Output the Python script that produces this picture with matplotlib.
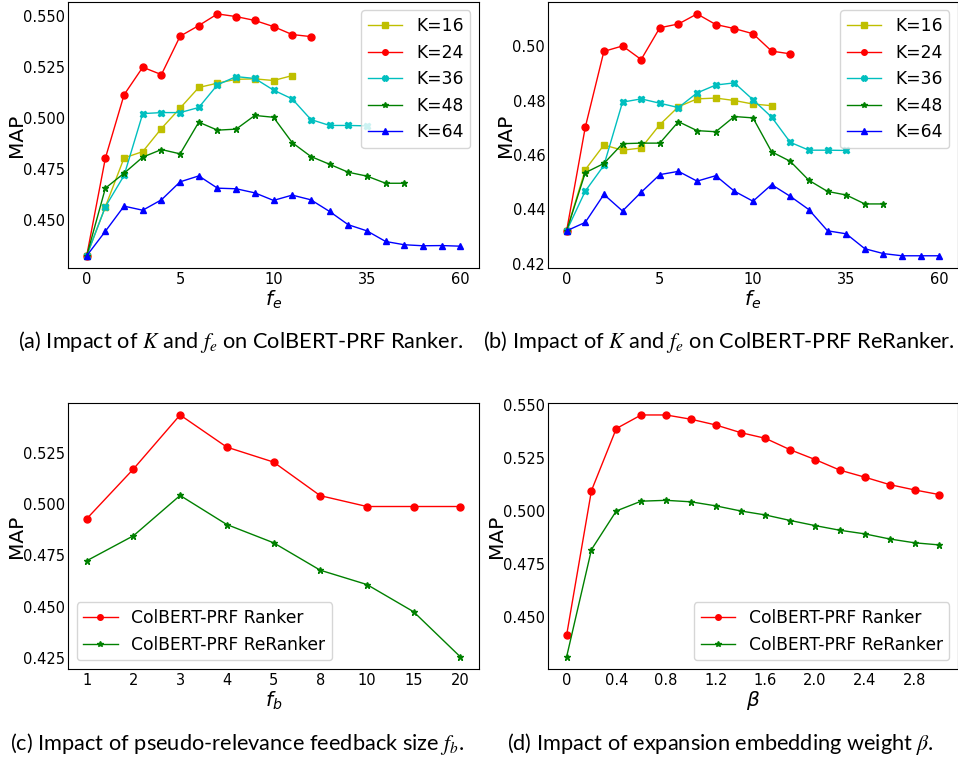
import numpy as np
import matplotlib
matplotlib.use("Agg")
import matplotlib.pyplot as plt
from matplotlib.ticker import MultipleLocator, FormatStrFormatter

# --- f_e sweep (x positions are indices, labelled at every 5th step) ---
fe_ticks = [0, 5, 10, 15, 20]
fe_labels = ["0", "5", "10", "35", "60"]
k_names = ["K=16", "K=24", "K=36", "K=48", "K=64"]
k_colors = ["y", "r", "c", "g", "b"]
k_markers = ["s", "o", "X", "*", "^"]

ranker_k16 = [0.4324, 0.4564, 0.4803, 0.4834, 0.4947, 0.5047, 0.5148, 0.5169, 0.5188, 0.5190, 0.5182, 0.5206]
ranker_k24 = [0.4324, 0.4802, 0.5112, 0.5247, 0.5211, 0.5399, 0.5451, 0.5508, 0.5495, 0.5476, 0.5446, 0.5407, 0.5397]
ranker_k36 = [0.4324, 0.4564, 0.4717, 0.5020, 0.5025, 0.5025, 0.5050, 0.5161, 0.5201, 0.5192, 0.5135, 0.5092,
              0.4991, 0.4962, 0.4962, 0.4960]
ranker_k48 = [0.4324, 0.4655, 0.4728, 0.4807, 0.4844, 0.4823, 0.4978, 0.4939, 0.4944, 0.5011, 0.5002, 0.4878,
              0.4810, 0.4772, 0.4733, 0.4714, 0.4679, 0.4679]
ranker_k64 = [0.4324, 0.4444, 0.4567, 0.4547, 0.4598, 0.4686, 0.4715, 0.4655, 0.4652, 0.4632, 0.4595, 0.4621,
              0.4598, 0.4541, 0.4476, 0.4446, 0.4394, 0.4378, 0.4373, 0.4374, 0.4371]

reranker_k16 = [0.4321, 0.4546, 0.4637, 0.4618, 0.4626, 0.4712, 0.4778, 0.4807, 0.4810, 0.4801, 0.4788, 0.4782]
reranker_k24 = [0.4321, 0.4702, 0.4982, 0.5002, 0.4952, 0.5069, 0.5083, 0.5120, 0.5081, 0.5066, 0.5047, 0.4983, 0.4973]
reranker_k36 = [0.4321, 0.4467, 0.4562, 0.4795, 0.4807, 0.4791, 0.4775, 0.4829, 0.4858, 0.4866, 0.4804, 0.4740,
                0.4647, 0.4618, 0.4618, 0.4617]
reranker_k48 = [0.4321, 0.4535, 0.4569, 0.4642, 0.4644, 0.4644, 0.4723, 0.4690, 0.4686, 0.4742, 0.4737, 0.4612,
                0.4577, 0.4507, 0.4466, 0.4453, 0.4420, 0.4420]
reranker_k64 = [0.4321, 0.4352, 0.4455, 0.4394, 0.4463, 0.4528, 0.4540, 0.4504, 0.4524, 0.4467, 0.4430, 0.4491,
                0.4448, 0.4399, 0.4321, 0.4310, 0.4255, 0.4237, 0.4229, 0.4229, 0.4229]

# --- f_b sweep ---
fb_labels = ["1", "2", "3", "4", "5", "8", "10", "15", "20"]
fb_ranker = [0.4929, 0.5172, 0.5436, 0.5279, 0.5206, 0.5042, 0.4989, 0.4989, 0.4989]
fb_reranker = [0.4724, 0.4846, 0.5043, 0.4901, 0.4812, 0.4678, 0.4608, 0.4475, 0.4255]

# --- beta sweep ---
beta = [0.0, 0.2, 0.4, 0.6, 0.8, 1.0, 1.2, 1.4, 1.6, 1.8, 2.0, 2.2, 2.4, 2.6, 2.8, 3.0]
beta_ranker = [0.4414, 0.5095, 0.5387, 0.5451, 0.5451, 0.5431, 0.5404, 0.5368, 0.5341, 0.5287, 0.5241,
               0.5191, 0.5158, 0.5123, 0.5098, 0.5076]
beta_reranker = [0.4312, 0.4817, 0.4999, 0.5045, 0.5049, 0.5042, 0.5023, 0.4999, 0.4980, 0.4954, 0.4930,
                 0.4908, 0.4891, 0.4867, 0.4849, 0.4839]
beta_ticks = [0.0, 0.4, 0.8, 1.2, 1.6, 2.0, 2.4, 2.8]
beta_tick_labels = ["0", "0.4", "0.8", "1.2", "1.6", "2.0", "2.4", "2.8"]

TICK_FS = 10.5
LEG_FS = 12.3
LAB_FS = 14.5
MS = 5

fig = plt.figure(figsize=(9.58, 7.61), dpi=100)
ax_a = fig.add_axes([0.071, 0.648, 0.429, 0.3496])
ax_b = fig.add_axes([0.572, 0.648, 0.428, 0.3496])
ax_c = fig.add_axes([0.071, 0.121, 0.429, 0.3496])
ax_d = fig.add_axes([0.572, 0.121, 0.428, 0.3496])


def style(ax, step=0.025, fmt="%.3f", ylab_x=-0.102):
    ax.tick_params(labelsize=TICK_FS, length=0)
    ax.tick_params(axis="y", pad=2)
    ax.tick_params(axis="x", pad=3)
    ax.set_ylabel("MAP", fontsize=LAB_FS)
    ax.yaxis.set_label_coords(ylab_x, 0.5)
    ax.yaxis.set_major_locator(MultipleLocator(step))
    ax.yaxis.set_major_formatter(FormatStrFormatter(fmt))


def fe_panel(ax, series, step, fmt, ylab_x):
    for vals, name, c, m in zip(series, k_names, k_colors, k_markers):
        ax.plot(np.arange(len(vals)), vals, color=c, marker=m, markersize=MS, linewidth=1, label=name)
    ax.set_xticks(fe_ticks)
    ax.set_xticklabels(fe_labels)
    ax.set_xlabel("$f_e$", fontsize=LAB_FS, labelpad=1)
    style(ax, step, fmt, ylab_x)
    ax.legend(loc="upper right", fontsize=LEG_FS, markerscale=0.8)


fe_panel(ax_a, [ranker_k16, ranker_k24, ranker_k36, ranker_k48, ranker_k64], 0.025, "%.3f", -0.102)
fe_panel(ax_b, [reranker_k16, reranker_k24, reranker_k36, reranker_k48, reranker_k64], 0.02, "%.2f", -0.080)

# f_b panel
xb = np.arange(len(fb_labels))
ax_c.plot(xb, fb_ranker, color="r", marker="o", markersize=MS, linewidth=1, label="ColBERT-PRF Ranker")
ax_c.plot(xb, fb_reranker, color="g", marker="*", markersize=MS, linewidth=1, label="ColBERT-PRF ReRanker")
ax_c.set_xticks(xb)
ax_c.set_xticklabels(fb_labels)
ax_c.set_xlabel("$f_b$", fontsize=LAB_FS, labelpad=1)
style(ax_c)
ax_c.legend(loc="lower left", fontsize=LEG_FS, markerscale=0.8)

# beta panel
ax_d.plot(beta, beta_ranker, color="r", marker="o", markersize=MS, linewidth=1, label="ColBERT-PRF Ranker")
ax_d.plot(beta, beta_reranker, color="g", marker="*", markersize=MS, linewidth=1, label="ColBERT-PRF ReRanker")
ax_d.set_xticks(beta_ticks)
ax_d.set_xticklabels(beta_tick_labels)
ax_d.set_xlabel(r"$\beta$", fontsize=LAB_FS, labelpad=1)
style(ax_d)
ax_d.legend(loc="lower right", fontsize=LEG_FS, markerscale=0.8)

# sub-figure captions
cap = dict(fontsize=15.7, family="Lato", math_fontfamily="stix", ha="center", va="center")
fig.text(0.251, 0.551, "(a) Impact of $K$ and $f_e$ on ColBERT-PRF Ranker.", **cap)
fig.text(0.750, 0.551, "(b) Impact of $K$ and $f_e$ on ColBERT-PRF ReRanker.", **cap)
fig.text(0.247, 0.022, "(c) Impact of pseudo-relevance feedback size $f_b$.", **cap)
fig.text(0.752, 0.022, r"(d) Impact of expansion embedding weight $\beta$.", **cap)

fig.savefig("out.png", dpi=100)
